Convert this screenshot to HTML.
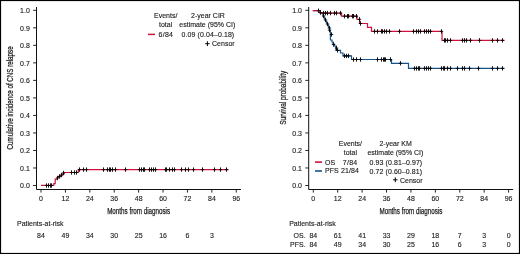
<!DOCTYPE html>
<html><head><meta charset="utf-8"><style>
html,body{margin:0;padding:0;background:#fff;width:520px;height:254px;overflow:hidden}
svg{display:block;will-change:transform}
</style></head><body>
<svg width="520" height="254" viewBox="0 0 520 254">
<rect x="0" y="0" width="520" height="254" fill="#fff"/>
<g font-family='"Liberation Sans", sans-serif' fill="#1c1c1c" stroke="#1c1c1c" stroke-width="0.12">
<path d="M36.5,7V189.5H241.0" fill="none" stroke="#111" stroke-width="1"/>
<path d="M33.1,185.50H36.5M33.1,167.98H36.5M33.1,150.46H36.5M33.1,132.94H36.5M33.1,115.42H36.5M33.1,97.90H36.5M33.1,80.38H36.5M33.1,62.86H36.5M33.1,45.34H36.5M33.1,27.82H36.5M33.1,10.30H36.5M41.00,189.5V192.6M65.41,189.5V192.6M89.82,189.5V192.6M114.23,189.5V192.6M138.64,189.5V192.6M163.05,189.5V192.6M187.46,189.5V192.6M211.87,189.5V192.6M236.28,189.5V192.6" fill="none" stroke="#111" stroke-width="0.9"/>
<text transform="translate(29.80,188.30) scale(1,1.07)" font-size="7" text-anchor="end" >0.0</text>
<text transform="translate(29.80,170.78) scale(1,1.07)" font-size="7" text-anchor="end" >0.1</text>
<text transform="translate(29.80,153.26) scale(1,1.07)" font-size="7" text-anchor="end" >0.2</text>
<text transform="translate(29.80,135.74) scale(1,1.07)" font-size="7" text-anchor="end" >0.3</text>
<text transform="translate(29.80,118.22) scale(1,1.07)" font-size="7" text-anchor="end" >0.4</text>
<text transform="translate(29.80,100.70) scale(1,1.07)" font-size="7" text-anchor="end" >0.5</text>
<text transform="translate(29.80,83.18) scale(1,1.07)" font-size="7" text-anchor="end" >0.6</text>
<text transform="translate(29.80,65.66) scale(1,1.07)" font-size="7" text-anchor="end" >0.7</text>
<text transform="translate(29.80,48.14) scale(1,1.07)" font-size="7" text-anchor="end" >0.8</text>
<text transform="translate(29.80,30.62) scale(1,1.07)" font-size="7" text-anchor="end" >0.9</text>
<text transform="translate(29.80,13.10) scale(1,1.07)" font-size="7" text-anchor="end" >1.0</text>
<text transform="translate(41.00,201.10) scale(1,1.07)" font-size="7" text-anchor="middle" >0</text>
<text transform="translate(65.41,201.10) scale(1,1.07)" font-size="7" text-anchor="middle" >12</text>
<text transform="translate(89.82,201.10) scale(1,1.07)" font-size="7" text-anchor="middle" >24</text>
<text transform="translate(114.23,201.10) scale(1,1.07)" font-size="7" text-anchor="middle" >36</text>
<text transform="translate(138.64,201.10) scale(1,1.07)" font-size="7" text-anchor="middle" >48</text>
<text transform="translate(163.05,201.10) scale(1,1.07)" font-size="7" text-anchor="middle" >60</text>
<text transform="translate(187.46,201.10) scale(1,1.07)" font-size="7" text-anchor="middle" >72</text>
<text transform="translate(211.87,201.10) scale(1,1.07)" font-size="7" text-anchor="middle" >84</text>
<text transform="translate(236.28,201.10) scale(1,1.07)" font-size="7" text-anchor="middle" >96</text>
<text transform="translate(138.64,213.50) scale(1,1.0)" font-size="8.4" text-anchor="middle" textLength="63" lengthAdjust="spacingAndGlyphs" stroke="#1c1c1c" stroke-width="0.25">Months from diagnosis</text>
<path d="M308.7,7V189.5H513.2" fill="none" stroke="#111" stroke-width="1"/>
<path d="M305.3,185.50H308.7M305.3,167.98H308.7M305.3,150.46H308.7M305.3,132.94H308.7M305.3,115.42H308.7M305.3,97.90H308.7M305.3,80.38H308.7M305.3,62.86H308.7M305.3,45.34H308.7M305.3,27.82H308.7M305.3,10.30H308.7M313.30,189.5V192.6M337.71,189.5V192.6M362.12,189.5V192.6M386.53,189.5V192.6M410.94,189.5V192.6M435.35,189.5V192.6M459.76,189.5V192.6M484.17,189.5V192.6M508.58,189.5V192.6" fill="none" stroke="#111" stroke-width="0.9"/>
<text transform="translate(302.00,188.30) scale(1,1.07)" font-size="7" text-anchor="end" >0.0</text>
<text transform="translate(302.00,170.78) scale(1,1.07)" font-size="7" text-anchor="end" >0.1</text>
<text transform="translate(302.00,153.26) scale(1,1.07)" font-size="7" text-anchor="end" >0.2</text>
<text transform="translate(302.00,135.74) scale(1,1.07)" font-size="7" text-anchor="end" >0.3</text>
<text transform="translate(302.00,118.22) scale(1,1.07)" font-size="7" text-anchor="end" >0.4</text>
<text transform="translate(302.00,100.70) scale(1,1.07)" font-size="7" text-anchor="end" >0.5</text>
<text transform="translate(302.00,83.18) scale(1,1.07)" font-size="7" text-anchor="end" >0.6</text>
<text transform="translate(302.00,65.66) scale(1,1.07)" font-size="7" text-anchor="end" >0.7</text>
<text transform="translate(302.00,48.14) scale(1,1.07)" font-size="7" text-anchor="end" >0.8</text>
<text transform="translate(302.00,30.62) scale(1,1.07)" font-size="7" text-anchor="end" >0.9</text>
<text transform="translate(302.00,13.10) scale(1,1.07)" font-size="7" text-anchor="end" >1.0</text>
<text transform="translate(313.30,201.10) scale(1,1.07)" font-size="7" text-anchor="middle" >0</text>
<text transform="translate(337.71,201.10) scale(1,1.07)" font-size="7" text-anchor="middle" >12</text>
<text transform="translate(362.12,201.10) scale(1,1.07)" font-size="7" text-anchor="middle" >24</text>
<text transform="translate(386.53,201.10) scale(1,1.07)" font-size="7" text-anchor="middle" >36</text>
<text transform="translate(410.94,201.10) scale(1,1.07)" font-size="7" text-anchor="middle" >48</text>
<text transform="translate(435.35,201.10) scale(1,1.07)" font-size="7" text-anchor="middle" >60</text>
<text transform="translate(459.76,201.10) scale(1,1.07)" font-size="7" text-anchor="middle" >72</text>
<text transform="translate(484.17,201.10) scale(1,1.07)" font-size="7" text-anchor="middle" >84</text>
<text transform="translate(508.58,201.10) scale(1,1.07)" font-size="7" text-anchor="middle" >96</text>
<text transform="translate(410.94,213.50) scale(1,1.0)" font-size="8.4" text-anchor="middle" textLength="63" lengthAdjust="spacingAndGlyphs" stroke="#1c1c1c" stroke-width="0.25">Months from diagnosis</text>
<text transform="translate(13.3,97.9) rotate(-90)" x="0" y="0" font-size="8.4" text-anchor="middle" textLength="103" lengthAdjust="spacingAndGlyphs" stroke="#1c1c1c" stroke-width="0.25">Cumulative incidence of CNS relapse</text>
<text transform="translate(285.6,97.7) rotate(-90)" x="0" y="0" font-size="8.4" text-anchor="middle" textLength="54" lengthAdjust="spacingAndGlyphs" stroke="#1c1c1c" stroke-width="0.25">Survival probability</text>
<text transform="translate(165.70,18.30) scale(1,1.07)" font-size="7" text-anchor="middle" >Events/</text>
<text transform="translate(165.60,26.80) scale(1,1.07)" font-size="7" text-anchor="middle" >total</text>
<text transform="translate(208.00,18.30) scale(1,1.07)" font-size="7" text-anchor="middle" >2-year CIR</text>
<text transform="translate(207.30,26.80) scale(1,1.07)" font-size="7" text-anchor="middle" >estimate (95% CI)</text>
<text transform="translate(173.00,37.10) scale(1,1.07)" font-size="7" text-anchor="end" textLength="14.4">6/84</text>
<text transform="translate(234.20,37.10) scale(1,1.07)" font-size="7" text-anchor="end" textLength="52.6">0.09 (0.04&#8211;0.18)</text>
<text transform="translate(234.60,46.40) scale(1,1.07)" font-size="7" text-anchor="end" >Censor</text>
<path d="M148,34.4H155" stroke="#d2123a" stroke-width="1.5"/>
<path d="M205.2,43.7H209.6M207.4,41.3V46.1" stroke="#000" stroke-width="1"/>
<text transform="translate(350.40,146.00) scale(1,1.07)" font-size="7" text-anchor="middle" >Events/</text>
<text transform="translate(350.40,154.60) scale(1,1.07)" font-size="7" text-anchor="middle" >total</text>
<text transform="translate(395.60,146.00) scale(1,1.07)" font-size="7" text-anchor="middle" >2-year KM</text>
<text transform="translate(395.40,154.60) scale(1,1.07)" font-size="7" text-anchor="middle" >estimate (95% CI)</text>
<text transform="translate(325.00,164.70) scale(1,1.07)" font-size="7" text-anchor="start" >OS</text>
<text transform="translate(357.20,164.70) scale(1,1.07)" font-size="7" text-anchor="end" textLength="14.4">7/84</text>
<text transform="translate(325.00,173.40) scale(1,1.07)" font-size="7" text-anchor="start" >PFS</text>
<text transform="translate(358.80,173.40) scale(1,1.07)" font-size="7" text-anchor="end" textLength="17.8">21/84</text>
<text transform="translate(422.20,164.80) scale(1,1.07)" font-size="7" text-anchor="end" textLength="52.6">0.93 (0.81&#8211;0.97)</text>
<text transform="translate(422.00,173.60) scale(1,1.07)" font-size="7" text-anchor="end" textLength="52.4">0.72 (0.60&#8211;0.81)</text>
<text transform="translate(422.50,182.60) scale(1,1.07)" font-size="7" text-anchor="end" >Censor</text>
<path d="M315,162.1H322" stroke="#d2123a" stroke-width="1.6"/>
<path d="M315,171.0H322" stroke="#13548e" stroke-width="1.6"/>
<path d="M393.1,179.8H397.5M395.3,177.4V182.2" stroke="#000" stroke-width="1"/>
<text transform="translate(17.00,225.50) scale(1,1.07)" font-size="7" text-anchor="start" >Patients-at-risk</text>
<text transform="translate(289.20,225.50) scale(1,1.07)" font-size="7" text-anchor="start" >Patients-at-risk</text>
<text transform="translate(41.00,238.00) scale(1,1.07)" font-size="7" text-anchor="middle" >84</text>
<text transform="translate(65.41,238.00) scale(1,1.07)" font-size="7" text-anchor="middle" >49</text>
<text transform="translate(89.82,238.00) scale(1,1.07)" font-size="7" text-anchor="middle" >34</text>
<text transform="translate(114.23,238.00) scale(1,1.07)" font-size="7" text-anchor="middle" >30</text>
<text transform="translate(138.64,238.00) scale(1,1.07)" font-size="7" text-anchor="middle" >25</text>
<text transform="translate(163.05,238.00) scale(1,1.07)" font-size="7" text-anchor="middle" >16</text>
<text transform="translate(187.46,238.00) scale(1,1.07)" font-size="7" text-anchor="middle" >6</text>
<text transform="translate(211.87,238.00) scale(1,1.07)" font-size="7" text-anchor="middle" >3</text>
<text transform="translate(305.60,238.00) scale(1,1.07)" font-size="7" text-anchor="end" >OS.</text>
<text transform="translate(305.60,247.30) scale(1,1.07)" font-size="7" text-anchor="end" >PFS.</text>
<text transform="translate(313.30,238.00) scale(1,1.07)" font-size="7" text-anchor="middle" >84</text>
<text transform="translate(337.71,238.00) scale(1,1.07)" font-size="7" text-anchor="middle" >61</text>
<text transform="translate(362.12,238.00) scale(1,1.07)" font-size="7" text-anchor="middle" >41</text>
<text transform="translate(386.53,238.00) scale(1,1.07)" font-size="7" text-anchor="middle" >33</text>
<text transform="translate(410.94,238.00) scale(1,1.07)" font-size="7" text-anchor="middle" >29</text>
<text transform="translate(435.35,238.00) scale(1,1.07)" font-size="7" text-anchor="middle" >18</text>
<text transform="translate(459.76,238.00) scale(1,1.07)" font-size="7" text-anchor="middle" >7</text>
<text transform="translate(484.17,238.00) scale(1,1.07)" font-size="7" text-anchor="middle" >3</text>
<text transform="translate(508.58,238.00) scale(1,1.07)" font-size="7" text-anchor="middle" >0</text>
<text transform="translate(313.30,247.30) scale(1,1.07)" font-size="7" text-anchor="middle" >84</text>
<text transform="translate(337.71,247.30) scale(1,1.07)" font-size="7" text-anchor="middle" >49</text>
<text transform="translate(362.12,247.30) scale(1,1.07)" font-size="7" text-anchor="middle" >34</text>
<text transform="translate(386.53,247.30) scale(1,1.07)" font-size="7" text-anchor="middle" >30</text>
<text transform="translate(410.94,247.30) scale(1,1.07)" font-size="7" text-anchor="middle" >25</text>
<text transform="translate(435.35,247.30) scale(1,1.07)" font-size="7" text-anchor="middle" >16</text>
<text transform="translate(459.76,247.30) scale(1,1.07)" font-size="7" text-anchor="middle" >6</text>
<text transform="translate(484.17,247.30) scale(1,1.07)" font-size="7" text-anchor="middle" >3</text>
<text transform="translate(508.58,247.30) scale(1,1.07)" font-size="7" text-anchor="middle" >0</text>
</g>
<path d="M41,185.4H53.8V183.6H55.2V179.2H57.4V177.2H59.8V175.6H62V174H64V172.5H78.3V169.6H228.5" fill="none" stroke="#d2123a" stroke-width="1.2"/>
<path d="M44.80,185.50H48.20M46.50,183.30V187.70M46.80,185.50H50.20M48.50,183.30V187.70M48.80,185.50H52.20M50.50,183.30V187.70M49.80,185.50H53.20M51.50,183.30V187.70M55.80,178.00H59.20M57.50,175.80V180.20M57.80,176.40H61.20M59.50,174.20V178.60M59.80,175.00H63.20M61.50,172.80V177.20M61.80,173.00H65.20M63.50,170.80V175.20M69.80,172.50H73.20M71.50,170.30V174.70M72.80,172.50H76.20M74.50,170.30V174.70M74.80,172.50H78.20M76.50,170.30V174.70M77.80,169.60H81.20M79.50,167.40V171.80M81.80,169.60H85.20M83.50,167.40V171.80M84.80,169.60H88.20M86.50,167.40V171.80M101.80,169.60H105.20M103.50,167.40V171.80M105.80,169.60H109.20M107.50,167.40V171.80M107.80,169.60H111.20M109.50,167.40V171.80M108.80,169.60H112.20M110.50,167.40V171.80M110.80,169.60H114.20M112.50,167.40V171.80M113.80,169.60H117.20M115.50,167.40V171.80M123.80,169.60H127.20M125.50,167.40V171.80M137.80,169.60H141.20M139.50,167.40V171.80M139.80,169.60H143.20M141.50,167.40V171.80M141.80,169.60H145.20M143.50,167.40V171.80M142.80,169.60H146.20M144.50,167.40V171.80M147.80,169.60H151.20M149.50,167.40V171.80M149.80,169.60H153.20M151.50,167.40V171.80M151.80,169.60H155.20M153.50,167.40V171.80M153.80,169.60H157.20M155.50,167.40V171.80M163.80,169.60H167.20M165.50,167.40V171.80M164.80,169.60H168.20M166.50,167.40V171.80M167.80,169.60H171.20M169.50,167.40V171.80M170.80,169.60H174.20M172.50,167.40V171.80M172.80,169.60H176.20M174.50,167.40V171.80M179.80,169.60H183.20M181.50,167.40V171.80M183.80,169.60H187.20M185.50,167.40V171.80M186.80,169.60H190.20M188.50,167.40V171.80M191.80,169.60H195.20M193.50,167.40V171.80M200.80,169.60H204.20M202.50,167.40V171.80M212.80,169.60H216.20M214.50,167.40V171.80M218.80,169.60H222.20M220.50,167.40V171.80M224.80,169.60H228.20M226.50,167.40V171.80" fill="none" stroke="#000" stroke-width="0.9"/>
<path d="M312.8,10.7H320.3V13.1H323V15H323.5V17H324.5V19H325.5V21H326.5V23H327.5V25H328.5V27.5H329.5V30.5H330.4V40H332V42H333V44H334.5V46H336V50.3H340.5V53H343V55.9H351.5V59.5H391.5V63.4H408.5V68.4H504.5" fill="none" stroke="#13548e" stroke-width="1.2"/>
<path d="M312.8,10.7H320.3V13.1H341.5V16.2H357V19.5H359.6V23.5H367.5V27.4H371.5V31.4H442V40.4H504.5" fill="none" stroke="#d2123a" stroke-width="1.2"/>
<path d="M316.80,10.70H320.20M318.50,8.50V12.90M318.80,12.60H322.20M320.50,10.40V14.80M321.80,13.10H325.20M323.50,10.90V15.30M323.80,13.10H327.20M325.50,10.90V15.30M325.80,13.10H329.20M327.50,10.90V15.30M328.80,13.10H332.20M330.50,10.90V15.30M332.80,13.10H336.20M334.50,10.90V15.30M334.80,13.10H338.20M336.50,10.90V15.30M338.80,13.10H342.20M340.50,10.90V15.30M342.80,16.20H346.20M344.50,14.00V18.40M345.80,16.20H349.20M347.50,14.00V18.40M346.80,16.20H350.20M348.50,14.00V18.40M350.80,16.20H354.20M352.50,14.00V18.40M351.80,16.20H355.20M353.50,14.00V18.40M354.80,16.20H358.20M356.50,14.00V18.40M357.80,19.30H361.20M359.50,17.10V21.50M358.80,23.50H362.20M360.50,21.30V25.70M372.80,31.40H376.20M374.50,29.20V33.60M375.80,31.40H379.20M377.50,29.20V33.60M379.80,31.40H383.20M381.50,29.20V33.60M380.80,31.40H384.20M382.50,29.20V33.60M382.80,31.40H386.20M384.50,29.20V33.60M384.80,31.40H388.20M386.50,29.20V33.60M387.80,31.40H391.20M389.50,29.20V33.60M397.80,31.40H401.20M399.50,29.20V33.60M411.80,31.40H415.20M413.50,29.20V33.60M414.80,31.40H418.20M416.50,29.20V33.60M416.80,31.40H420.20M418.50,29.20V33.60M418.80,31.40H422.20M420.50,29.20V33.60M422.80,31.40H426.20M424.50,29.20V33.60M424.80,31.40H428.20M426.50,29.20V33.60M426.80,31.40H430.20M428.50,29.20V33.60M428.80,31.40H432.20M430.50,29.20V33.60M439.80,31.40H443.20M441.50,29.20V33.60M442.80,40.40H446.20M444.50,38.20V42.60M443.80,40.40H447.20M445.50,38.20V42.60M445.80,40.40H449.20M447.50,38.20V42.60M448.80,40.40H452.20M450.50,38.20V42.60M460.80,40.40H464.20M462.50,38.20V42.60M462.80,40.40H466.20M464.50,38.20V42.60M464.80,40.40H468.20M466.50,38.20V42.60M468.80,40.40H472.20M470.50,38.20V42.60M477.80,40.40H481.20M479.50,38.20V42.60M490.80,40.40H494.20M492.50,38.20V42.60M495.80,40.40H499.20M497.50,38.20V42.60M500.80,40.40H504.20M502.50,38.20V42.60M321.80,16.00H325.20M323.50,13.80V18.20M323.80,20.00H327.20M325.50,17.80V22.20M325.80,24.00H329.20M327.50,21.80V26.20M327.80,28.00H331.20M329.50,25.80V30.20M327.80,30.00H331.20M329.50,27.80V32.20M329.80,34.50H333.20M331.50,32.30V36.70M331.80,44.50H335.20M333.50,42.30V46.70M334.80,48.00H338.20M336.50,45.80V50.20M335.80,50.40H339.20M337.50,48.20V52.60M342.80,55.90H346.20M344.50,53.70V58.10M344.80,55.90H348.20M346.50,53.70V58.10M346.80,55.90H350.20M348.50,53.70V58.10M351.80,59.50H355.20M353.50,57.30V61.70M354.80,59.50H358.20M356.50,57.30V61.70M358.80,59.50H362.20M360.50,57.30V61.70M375.80,59.50H379.20M377.50,57.30V61.70M379.80,59.50H383.20M381.50,57.30V61.70M381.80,59.50H385.20M383.50,57.30V61.70M382.80,59.50H386.20M384.50,57.30V61.70M383.80,59.50H387.20M385.50,57.30V61.70M388.80,59.50H392.20M390.50,57.30V61.70M398.80,63.30H402.20M400.50,61.10V65.50M412.80,68.40H416.20M414.50,66.20V70.60M414.80,68.40H418.20M416.50,66.20V70.60M416.80,68.40H420.20M418.50,66.20V70.60M417.80,68.40H421.20M419.50,66.20V70.60M422.80,68.40H426.20M424.50,66.20V70.60M424.80,68.40H428.20M426.50,66.20V70.60M426.80,68.40H430.20M428.50,66.20V70.60M428.80,68.40H432.20M430.50,66.20V70.60M439.80,68.40H443.20M441.50,66.20V70.60M441.80,68.40H445.20M443.50,66.20V70.60M442.80,68.40H446.20M444.50,66.20V70.60M445.80,68.40H449.20M447.50,66.20V70.60M448.80,68.40H452.20M450.50,66.20V70.60M455.80,68.40H459.20M457.50,66.20V70.60M460.80,68.40H464.20M462.50,66.20V70.60M462.80,68.40H466.20M464.50,66.20V70.60M467.80,68.40H471.20M469.50,66.20V70.60M476.80,68.40H480.20M478.50,66.20V70.60M490.80,68.40H494.20M492.50,66.20V70.60M495.80,68.40H499.20M497.50,66.20V70.60M500.80,68.40H504.20M502.50,66.20V70.60" fill="none" stroke="#000" stroke-width="0.9"/>
<rect x="0.5" y="0.5" width="519" height="253" fill="none" stroke="#000" stroke-width="1.2"/>
</svg>
</body></html>
